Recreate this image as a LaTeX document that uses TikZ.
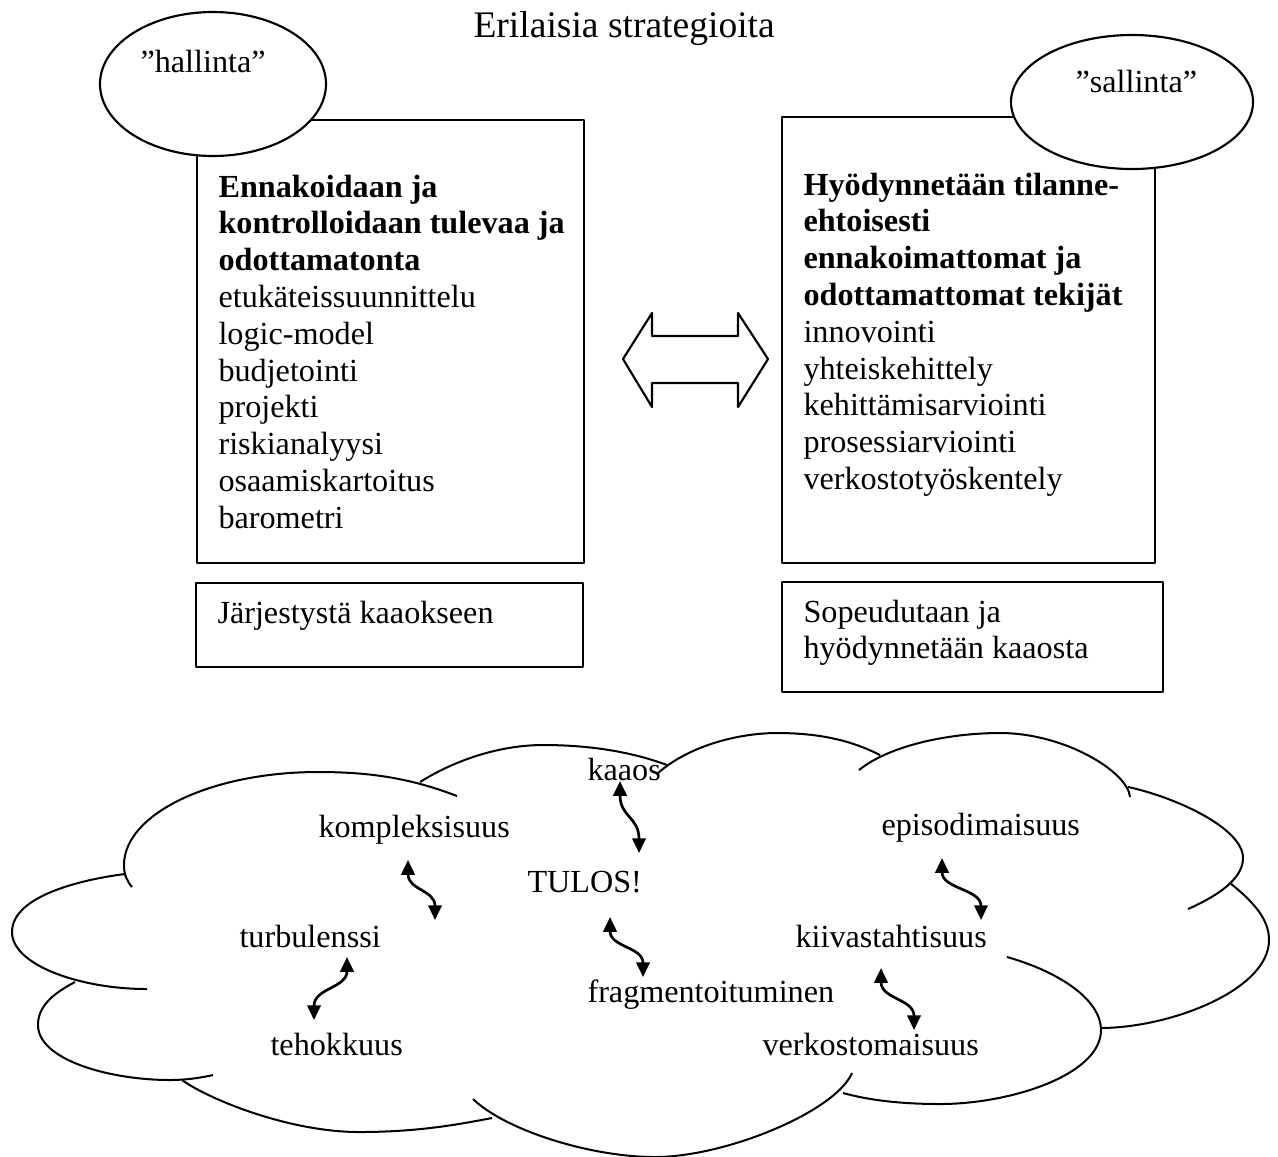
\documentclass[tikz,border=0pt]{standalone}
\usepackage{fontspec}
\setmainfont{Liberation Serif}
\usetikzlibrary{arrows.meta,shapes.geometric}
\def\pxu{0.373pt}
\begin{document}
\begin{tikzpicture}[x=0.373pt,y=-0.373pt,line join=round,
  outline/.style={draw=black,line width=0.8pt},
  box/.style={outline,rectangle,inner sep=0pt,fill=white},
  oval/.style={outline,ellipse,inner sep=0pt,fill=white},
  txt/.style={inner sep=0pt,anchor=base west,font=\fontsize{12}{13.8}\selectfont},
  btxt/.style={inner sep=0pt,anchor=base west,font=\fontsize{12}{13.8}\selectfont\bfseries},
  ttl/.style={inner sep=0pt,anchor=base west,font=\fontsize{14}{16}\selectfont},
  cloudline/.style={line width=0.75pt},
  wavy/.style={line width=1pt,{Triangle[length=5.5pt,width=5pt]}-{Triangle[length=5.5pt,width=5pt]}}]
\useasboundingbox (0,0) rectangle (1278,1156);

% title
\node[ttl] (title) at (473,37) {Erilaisia strategioita};

% boxes
\node[box,minimum width=387*\pxu,minimum height=443*\pxu] (lbox) at (390.5,341.5) {};
\node[box,minimum width=387*\pxu,minimum height=84*\pxu] (lsub) at (389.5,625) {};
\node[box,minimum width=373*\pxu,minimum height=446*\pxu] (rbox) at (968.5,340) {};
\node[box,minimum width=381*\pxu,minimum height=110*\pxu] (rsub) at (972.5,637) {};

% ovals
\node[oval,minimum width=226*\pxu,minimum height=144*\pxu] (hal) at (213,84) {};
\node[txt] (haltxt) at (140,72) {”hallinta”};
\node[oval,minimum width=242*\pxu,minimum height=134*\pxu] (sal) at (1132,102) {};
\node[txt] (saltxt) at (1075,92) {”sallinta”};

% left box text
\node[btxt] (l1) at (218,197) {Ennakoidaan ja};
\node[btxt] (l2) at (218,233.8) {kontrolloidaan tulevaa ja};
\node[btxt] (l3) at (218,270.6) {odottamatonta};
\node[txt] (l4) at (218,307.4) {etukäteissuunnittelu};
\node[txt] (l5) at (218,344.2) {logic-model};
\node[txt] (l6) at (218,381) {budjetointi};
\node[txt] (l7) at (218,417.8) {projekti};
\node[txt] (l8) at (218,454.6) {riskianalyysi};
\node[txt] (l9) at (218,491.4) {osaamiskartoitus};
\node[txt] (l10) at (218,528.2) {barometri};
\node[txt] (ls1) at (217,623) {Järjestystä kaaokseen};

% right box text
\node[btxt] (r1) at (803,195) {Hyödynnetään tilanne-};
\node[btxt] (r2) at (803,231.8) {ehtoisesti};
\node[btxt] (r3) at (803,268.6) {ennakoimattomat ja};
\node[btxt] (r4) at (803,305.4) {odottamattomat tekijät};
\node[txt] (r5) at (803,342.2) {innovointi};
\node[txt] (r6) at (803,379) {yhteiskehittely};
\node[txt] (r7) at (803,415.8) {kehittämisarviointi};
\node[txt] (r8) at (803,452.6) {prosessiarviointi};
\node[txt] (r9) at (803,489.4) {verkostotyöskentely};
\node[txt] (rs1) at (803,622) {Sopeudutaan ja};
\node[txt] (rs2) at (803,658) {hyödynnetään kaaosta};

% double arrow
\draw[outline] (623,359) -- (652,313) -- (652,336) -- (738,336) -- (738,313) -- (768,359)
  -- (738,407) -- (738,383) -- (652,383) -- (652,407) -- cycle;

% cloud lobes
\draw[cloudline] (457,796) .. controls (410,778) and (370,772) .. (318,772)
  .. controls (211,772) and (124,814) .. (124,865) .. controls (124,875) and (127,881) .. (132,887);
\draw[cloudline] (125,874) .. controls (85,879) and (12,895) .. (12,932)
  .. controls (12,965) and (80,989) .. (147,989);
\draw[cloudline] (75,982) .. controls (50,995) and (38,1008) .. (38,1025)
  .. controls (38,1060) and (110,1080) .. (170,1080) .. controls (185,1080) and (200,1078) .. (213,1075);
\draw[cloudline] (182,1080) .. controls (210,1100) and (290,1132) .. (359,1132)
  .. controls (420,1132) and (460,1124) .. (492,1118);
\draw[cloudline] (473,1099) .. controls (505,1130) and (590,1157) .. (655,1157)
  .. controls (725,1157) and (835,1112) .. (852,1073);
\draw[cloudline] (1007,957) .. controls (1060,972) and (1101,1000) .. (1101,1030)
  .. controls (1101,1075) and (1010,1104) .. (940,1104) .. controls (895,1104) and (865,1099) .. (843,1093);
\draw[cloudline] (1230,883) .. controls (1255,903) and (1269,920) .. (1269,940)
  .. controls (1269,990) and (1170,1028) .. (1100,1028);
\draw[cloudline] (1128,787) .. controls (1175,797) and (1243,828) .. (1243,858)
  .. controls (1243,880) and (1215,897) .. (1188,909);
\draw[cloudline] (859,770) .. controls (890,745) and (950,733) .. (1000,733)
  .. controls (1065,733) and (1128,772) .. (1130,797);
\draw[cloudline] (658,773) .. controls (690,745) and (740,733) .. (777,733)
  .. controls (830,733) and (860,745) .. (880,755);
\draw[cloudline] (420,782) .. controls (455,760) and (500,745) .. (543,745)
  .. controls (600,745) and (640,755) .. (667,765);

% cloud words
\node[txt] (kaaos) at (587,780) {kaaos};
\node[txt] (komp) at (318,837) {kompleksisuus};
\node[txt] (tulos) at (527,892) {TULOS!};
\node[txt] (turb) at (239,947) {turbulenssi};
\node[txt] (teho) at (270,1055) {tehokkuus};
\node[txt] (frag) at (587,1002) {fragmentoituminen};
\node[txt] (epis) at (881,835) {episodimaisuus};
\node[txt] (kiiv) at (795,947) {kiivastahtisuus};
\node[txt] (verk) at (762,1055) {verkostomaisuus};

% wavy double arrows
\coordinate (a1t) at (408,860); \coordinate (a1b) at (435,920);
\coordinate (a2t) at (347,957); \coordinate (a2b) at (314,1020);
\coordinate (a3t) at (620,781); \coordinate (a3b) at (639,853);
\coordinate (a4t) at (610,917); \coordinate (a4b) at (643,977);
\coordinate (a5t) at (942,858); \coordinate (a5b) at (981,920);
\coordinate (a6t) at (881,968); \coordinate (a6b) at (914,1030);
\draw[wavy] (a1t) .. controls (408,890) and (435,890) .. (a1b);
\draw[wavy] (a2t) .. controls (347,988) and (314,988) .. (a2b);
\draw[wavy] (a3t) .. controls (620,817) and (639,817) .. (a3b);
\draw[wavy] (a4t) .. controls (610,947) and (643,947) .. (a4b);
\draw[wavy] (a5t) .. controls (942,889) and (981,889) .. (a5b);
\draw[wavy] (a6t) .. controls (881,999) and (914,999) .. (a6b);
\end{tikzpicture}
\end{document}
